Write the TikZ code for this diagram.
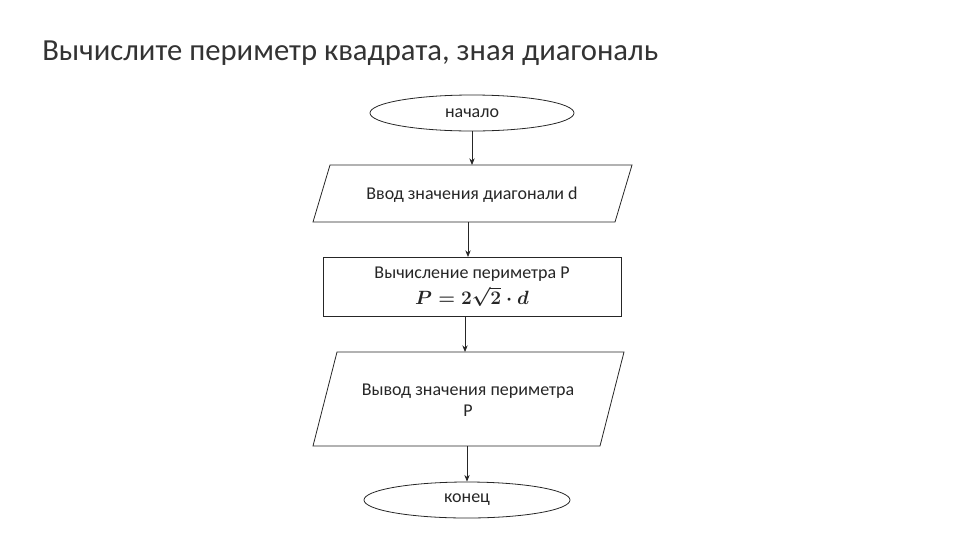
\documentclass[tikz,border=0pt]{standalone}
\usepackage{fontspec}
\setmainfont{Carlito}
\usetikzlibrary{shapes.geometric,arrows.meta}
\begin{document}
\begin{tikzpicture}[x=0.75pt,y=-0.75pt,
  line/.style={draw=black!85,line width=0.6pt},
  conn/.style={line,-{Stealth[length=5pt,width=4pt]}},
  lbl/.style={font=\fontsize{13.5pt}{16pt}\selectfont,align=center,text=black!85}]
\useasboundingbox (0,0) rectangle (960,540);
\node[anchor=base west,font=\fontsize{23pt}{26pt}\selectfont,text=black!80,inner sep=0pt] (title) at (42,60) {Вычислите периметр квадрата, зная диагональ};
\node[ellipse,line,minimum width=153pt,minimum height=27pt,inner sep=0pt,lbl] (start) at (472,113) {начало};
\draw[line] (330,165) -- (632,165) -- (615,222) -- (313,222) -- cycle;
\node[lbl] (in) at (472,195) {Ввод значения диагонали d};
\coordinate (inT) at (472,165); \coordinate (inB) at (468,222);
\node[line,fill=white,minimum width=223.5pt,minimum height=44pt,inner sep=0pt,lbl,font=\fontsize{13.5pt}{19pt}\selectfont] (proc) at (472,287) {Вычисление периметра P\\{\boldmath$P = 2\sqrt{2}\cdot d$}};
\coordinate (prT) at (468,257); \coordinate (prB) at (465,316);
\draw[line] (337,352) -- (624,352) -- (600,446) -- (313,446) -- cycle;
\node[lbl] (out) at (468,400) {Вывод значения периметра\\P};
\coordinate (outT) at (465,352); \coordinate (outB) at (467,446);
\node[ellipse,line,minimum width=154.5pt,minimum height=27pt,inner sep=0pt,lbl] (end) at (467,500) {конец};
\draw[conn] (start.south) -- (inT);
\draw[conn] (inB) -- (prT);
\draw[conn] (prB) -- (outT);
\draw[conn] (outB) -- (end.north);
\end{tikzpicture}
\end{document}
